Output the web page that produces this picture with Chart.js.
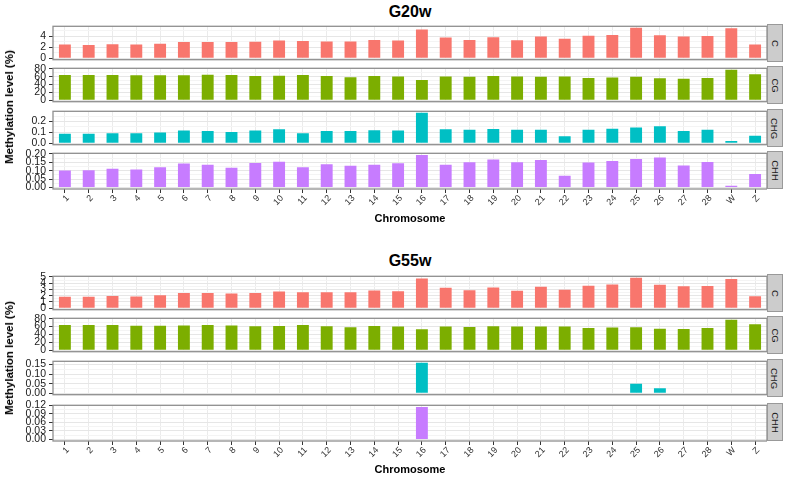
<!DOCTYPE html>
<html>
<head>
<meta charset="utf-8">
<script src="https://cdn.jsdelivr.net/npm/chart.js@4.4.1/dist/chart.umd.min.js"></script>
<style>
  body { margin: 0; background: #fff; font-family: "Liberation Sans", Arial, sans-serif; }
  #wrap { position: relative; width: 787px; height: 480px; overflow: hidden; }
  #wrap canvas { position: absolute; left: 0; }
  .title { position: absolute; left: 53px; width: 714px; text-align: center; font-weight: bold; font-size: 16px; color: #000; }
  .xlab { position: absolute; left: 53px; width: 714px; text-align: center; font-weight: bold; font-size: 11px; color: #000; }
  .ylab { position: absolute; left: 9px; font-weight: bold; font-size: 11.5px; color: #000; white-space: nowrap;
          transform: translate(-50%, -50%) rotate(-90deg); }
  .strip { position: absolute; left: 767px; width: 16px; box-sizing: border-box; background: #cccccc; border: 1px solid #999;
           display: flex; align-items: center; justify-content: center; }
  .strip span { display: block; transform: rotate(90deg); font-size: 9.5px; color: #1a1a1a; white-space: nowrap; }
</style>
</head>
<body>
<div id="wrap"></div>
<script>
const chromosomes = ["1","2","3","4","5","6","7","8","9","10","11","12","13","14","15",
  "16","17","18","19","20","21","22","23","24","25","26","27","28","W","Z"];
const contexts = ["C", "CG", "CHG", "CHH"];
const contextColors = ["#F8766D", "#7CAE00", "#00BFC4", "#C77CFF"];

// G20w
const g20C = [2.49,2.43,2.54,2.49,2.65,2.97,2.97,2.97,3.03,3.24,3.14,3.08,3.08,3.35,3.24,
  5.24,3.78,3.35,3.84,3.30,4.00,3.57,4.10,4.27,5.57,4.20,4.00,4.05,5.50,2.49];
const g20CG = [64.3,64.3,64.3,63.6,63.6,63.6,65.0,64.3,62.0,62.8,64.3,62.0,59.0,62.0,60.5,
  51.6,60.5,59.8,62.0,60.5,59.8,60.5,56.8,58.3,59.8,56.0,54.6,56.8,77.8,66.5];
const g20CHG = [0.088,0.088,0.091,0.091,0.099,0.117,0.112,0.104,0.117,0.128,0.091,0.112,0.112,0.120,0.117,
  0.280,0.128,0.125,0.131,0.125,0.125,0.064,0.123,0.133,0.144,0.155,0.112,0.123,0.021,0.069];
const g20CHH = [0.101,0.103,0.112,0.107,0.121,0.142,0.136,0.118,0.146,0.153,0.120,0.138,0.129,0.136,0.144,
  0.194,0.135,0.150,0.166,0.150,0.164,0.069,0.148,0.157,0.170,0.178,0.131,0.151,0.009,0.080];

// G55w
const g55C = [1.81,1.81,1.94,1.85,2.08,2.41,2.41,2.36,2.45,2.69,2.55,2.55,2.55,2.82,2.71,
  4.77,3.29,2.87,3.33,2.78,3.43,2.96,3.61,3.80,4.86,3.75,3.52,3.56,4.68,1.90];
const g55CG = [63.6,63.6,63.6,62.0,62.0,62.8,63.6,62.8,60.5,61.3,63.6,60.5,58.3,61.3,59.8,
  53.0,59.8,59.0,60.5,59.8,59.8,59.8,56.0,57.5,58.3,54.6,53.8,56.0,77.0,65.8];
const g55CHG = [0,0,0,0,0,0,0,0,0,0,0,0,0,0,0,
  0.159,0,0,0,0,0,0,0,0,0.050,0.026,0,0,0,0];
const g55CHH = [0,0,0,0,0,0,0,0,0,0,0,0,0,0,0,
  0.115,0,0,0,0,0,0,0,0,0,0,0,0,0,0];

// major tick steps and decimals per facet
const g20Steps = [2, 20, 0.1, 0.05];
const g20Decimals = [0, 0, 1, 2];
const g55Steps = [1, 20, 0.05, 0.03];
const g55Decimals = [0, 0, 2, 2];

const panels = [
  { title: "G20w", series: [g20C, g20CG, g20CHG, g20CHH], steps: g20Steps, decimals: g20Decimals,
    titleY: 3, tops: [24, 66, 109, 151], h: 38, xlabY: 212 },
  { title: "G55w", series: [g55C, g55CG, g55CHG, g55CHH], steps: g55Steps, decimals: g55Decimals,
    titleY: 252, tops: [274, 316, 359, 403], h: 38, xlabY: 463 },
];

const panelBorder = {
  id: "panelBorder",
  afterDraw(chart) {
    const { ctx, chartArea: a } = chart;
    ctx.save();
    ctx.strokeStyle = "#8f8f8f";
    ctx.lineWidth = 1.3;
    ctx.strokeRect(a.left, a.top, a.right - a.left, a.bottom - a.top);
    ctx.restore();
  },
};

const wrap = document.getElementById("wrap");
const PAD = 7;
const XH = 24;

function isMajor(v, step) {
  return Math.abs(v / step - Math.round(v / step)) < 1e-6;
}

function drawFacet(top, h, values, color, step, decimals, showX) {
  const cv = document.createElement("canvas");
  cv.width = 767;
  cv.height = PAD + h + (showX ? XH : PAD);
  cv.style.top = (top - PAD) + "px";
  wrap.appendChild(cv);

  const vmax = Math.max(...values);
  new Chart(cv.getContext("2d"), {
    type: "bar",
    data: {
      labels: chromosomes,
      datasets: [{ data: values, backgroundColor: color, barPercentage: 0.5, categoryPercentage: 1 }],
    },
    options: {
      responsive: false,
      animation: false,
      layout: { padding: { top: PAD, bottom: showX ? 0 : PAD, left: 0, right: 0 } },
      plugins: { legend: { display: false }, tooltip: { enabled: false } },
      scales: {
        x: {
          afterFit: (s) => { s.height = showX ? XH : 0; },
          border: { display: false },
          grid: { offset: false, color: "#ebebeb", drawTicks: showX, tickLength: 4, tickColor: "#333" },
          ticks: {
            display: showX, autoSkip: false, minRotation: 45, maxRotation: 45,
            padding: 0, labelOffset: 3, color: "#333",
            font: { family: "Liberation Sans", size: 9 },
          },
        },
        y: {
          min: -0.05 * vmax,
          max: 1.05 * vmax,
          afterFit: (s) => { s.width = 53; },
          border: { display: false },
          grid: {
            color: (c) => isMajor(c.tick.value, step) ? "#e6e6e6" : "#f4f4f4",
            tickColor: (c) => isMajor(c.tick.value, step) ? "#333" : "rgba(0,0,0,0)",
            tickLength: 4,
          },
          ticks: {
            stepSize: step / 2, includeBounds: false, autoSkip: false, padding: 3, color: "#1a1a1a",
            font: { family: "Liberation Sans", size: 10.5 },
            callback: (v) => isMajor(v, step) ? Number(v).toFixed(decimals) : "",
          },
        },
      },
    },
    plugins: [panelBorder],
  });
}

function addText(cls, text, css) {
  const d = document.createElement("div");
  d.className = cls;
  d.textContent = text;
  Object.assign(d.style, css);
  wrap.appendChild(d);
  return d;
}

panels.forEach((p) => {
  addText("title", p.title, { top: p.titleY + "px" });
  p.series.forEach((vals, i) => {
    drawFacet(p.tops[i], p.h, vals, contextColors[i], p.steps[i], p.decimals[i], i === 3);
    const s = document.createElement("div");
    s.className = "strip";
    s.style.top = p.tops[i] + "px";
    s.style.height = p.h + "px";
    s.innerHTML = "<span>" + contexts[i] + "</span>";
    wrap.appendChild(s);
  });
  addText("xlab", "Chromosome", { top: p.xlabY + "px" });
  const midY = (p.tops[0] + p.tops[3] + p.h) / 2;
  addText("ylab", "Methylation level (%)", { top: midY + "px" });
});
</script>
</body>
</html>
